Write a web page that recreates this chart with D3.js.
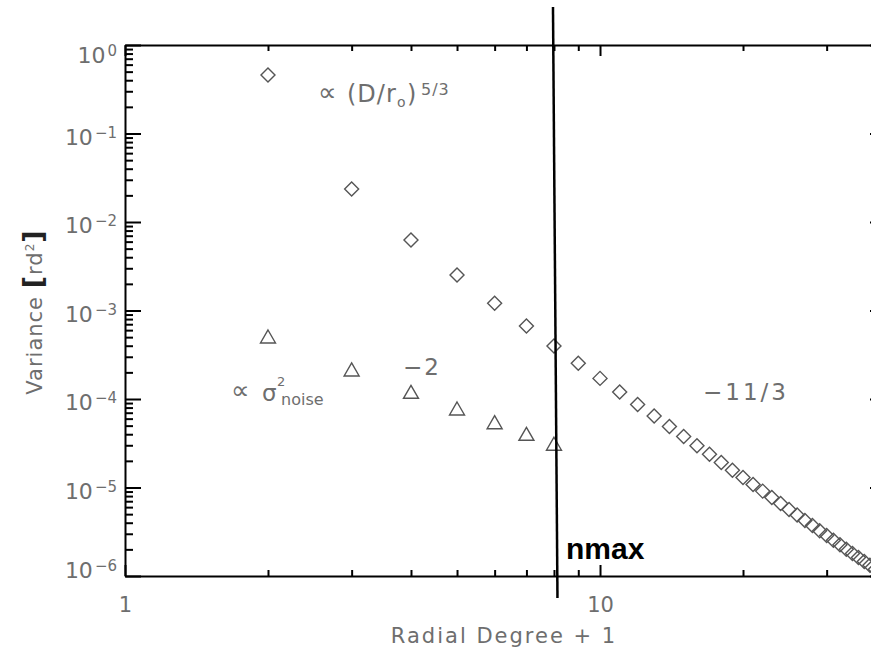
<!DOCTYPE html>
<html>
<head>
<meta charset="utf-8">
<script src="https://cdn.jsdelivr.net/npm/d3@7"></script>
<style>
  html, body { margin: 0; padding: 0; background: #fff; overflow: hidden }
  svg { display: block }
  .lbl { font-family: "DejaVu Sans", sans-serif; fill: #6e6e6e }
  .axis path, .axis line { stroke: #000; stroke-width: 2 }
</style>
</head>
<body>
<svg id="chart"></svg>
<script>
// radial degree + 1 for the turbulence (diamonds) series
const atmDegree = [2, 3, 4, 5, 6, 7, 8, 9, 10, 11, 12, 13, 14, 15, 16, 17, 18, 19, 20,
  21, 22, 23, 24, 25, 26, 27, 28, 29, 30, 31, 32, 33, 34, 35, 36, 37, 38, 39, 40]
const atmVariance = [0.458, 0.0236, 0.00626, 0.00252, 0.00121, 6.68e-4, 3.97e-4, 2.53e-4, 1.71e-4,
  1.20e-4, 8.67e-5, 6.44e-5, 4.89e-5, 3.78e-5, 2.97e-5, 2.38e-5, 1.92e-5, 1.57e-5, 1.30e-5,
  1.08e-5, 9.10e-6, 7.71e-6, 6.58e-6, 5.65e-6, 4.89e-6, 4.25e-6, 3.71e-6, 3.25e-6, 2.87e-6,
  2.54e-6, 2.26e-6, 2.01e-6, 1.80e-6, 1.62e-6, 1.46e-6, 1.32e-6, 1.19e-6, 1.08e-6, 9.8e-7]

// noise (triangles) series
const noiseDegree = [2, 3, 4, 5, 6, 7, 8]
const noiseVariance = [5.02e-4, 2.13e-4, 1.19e-4, 7.71e-5, 5.40e-5, 3.99e-5, 3.08e-5]

const nmax = 8

const xMajor = [1, 10]
const xMinor = [2, 3, 4, 5, 6, 7, 8, 9, 20, 30, 40]
const yExponents = [0, -1, -2, -3, -4, -5, -6]
const yMinorFactors = [2, 3, 4, 5, 6, 7, 8, 9]

const width = 871
const height = 648
const margin = { top: 45, right: -15, bottom: 72, left: 125 }

const svg = d3.select('#chart')
  .attr('width', width)
  .attr('height', height)

const x = d3.scaleLog()
  .domain([1, 40])
  .range([margin.left, width - margin.right])

const y = d3.scaleLog()
  .domain([1e-6, 1])
  .range([height - margin.bottom, margin.top])

const yMajor = yExponents.map(e => Math.pow(10, e))
const yMinor = []
yExponents.slice(1).forEach(e => {
  yMinorFactors.forEach(f => yMinor.push(f * Math.pow(10, e)))
})

const sup = e => String(e).replace('-', '\u2212')

// bottom axis
svg.append('g')
  .attr('class', 'axis')
  .attr('transform', `translate(0,${y.range()[0]})`)
  .call(d3.axisBottom(x).tickValues(xMajor).tickSize(-11).tickSizeOuter(0)
    .tickPadding(36).tickFormat(d3.format('d')))
  .call(g => g.selectAll('text')
    .attr('class', 'lbl').attr('dy', 0).style('font-size', '21px'))

svg.append('g')
  .attr('class', 'axis')
  .attr('transform', `translate(0,${y.range()[0]})`)
  .call(d3.axisBottom(x).tickValues(xMinor).tickSize(-6).tickFormat(''))
  .call(g => g.select('.domain').remove())

// top axis
svg.append('g')
  .attr('class', 'axis')
  .attr('transform', `translate(0,${y.range()[1]})`)
  .call(d3.axisTop(x).tickValues(xMajor).tickSize(-11).tickSizeOuter(0).tickFormat(''))

svg.append('g')
  .attr('class', 'axis')
  .attr('transform', `translate(0,${y.range()[1]})`)
  .call(d3.axisTop(x).tickValues(xMinor).tickSize(-6).tickFormat(''))
  .call(g => g.select('.domain').remove())

// left axis
const yLabelShift = { '0': 17, '-6': 1 }
svg.append('g')
  .attr('class', 'axis')
  .attr('transform', `translate(${x.range()[0]},0)`)
  .call(d3.axisLeft(y).tickValues(yMajor).tickSize(-16).tickSizeOuter(0)
    .tickPadding(8).tickFormat(''))
  .call(g => g.selectAll('text').each(function (d) {
    const e = Math.round(Math.log10(d))
    const t = d3.select(this)
      .attr('class', 'lbl')
      .attr('dy', 0)
      .attr('y', yLabelShift[e] !== undefined ? yLabelShift[e] : 10.5)
      .style('font-size', '22px')
    t.append('tspan').text('10')
    t.append('tspan')
      .attr('dx', 2)
      .attr('dy', -7)
      .style('font-size', '15px')
      .text(sup(e))
  }))

svg.append('g')
  .attr('class', 'axis')
  .attr('transform', `translate(${x.range()[0]},0)`)
  .call(d3.axisLeft(y).tickValues(yMinor).tickSize(-8).tickFormat(''))
  .call(g => g.select('.domain').remove())

// right axis (mostly outside the picture)
svg.append('g')
  .attr('class', 'axis')
  .attr('transform', `translate(${x.range()[1]},0)`)
  .call(d3.axisRight(y).tickValues(yMajor).tickSize(-16).tickSizeOuter(0).tickFormat(''))

// axis titles
svg.append('text')
  .attr('class', 'lbl')
  .attr('x', 504)
  .attr('y', 643)
  .attr('text-anchor', 'middle')
  .style('font-size', '21px')
  .style('letter-spacing', '2px')
  .text('Radial Degree + 1')

const yTitle = svg.append('text')
  .attr('class', 'lbl')
  .attr('transform', 'translate(42,312) rotate(-90)')
  .attr('text-anchor', 'middle')
  .style('font-size', '21px')
  .style('letter-spacing', '1px')
yTitle.append('tspan').text('Variance ')
yTitle.append('tspan').style('font-size', '27px').style('font-weight', 'bold').style('fill', '#222').text('[')
yTitle.append('tspan').text('rd')
yTitle.append('tspan').attr('dy', -8).style('font-size', '12px').text('2')
yTitle.append('tspan').attr('dy', 8).style('font-size', '27px').style('font-weight', 'bold').style('fill', '#222').text(']')

// symbols
const diamond = 'M0,-7L7,0L0,7L-7,0Z'
const triangle = 'M0,-7L7.5,6L-7.5,6Z'

svg.append('g')
  .selectAll('path')
  .data(atmDegree.map((d, i) => [d, atmVariance[i]]))
  .join('path')
  .attr('d', diamond)
  .attr('transform', d => `translate(${x(d[0])},${y(d[1])})`)
  .attr('fill', 'none')
  .attr('stroke', '#555')
  .attr('stroke-width', 1.4)

svg.append('g')
  .selectAll('path')
  .data(noiseDegree.map((d, i) => [d, noiseVariance[i]]))
  .join('path')
  .attr('d', triangle)
  .attr('transform', d => `translate(${x(d[0])},${y(d[1])})`)
  .attr('fill', 'none')
  .attr('stroke', '#555')
  .attr('stroke-width', 1.4)

// annotations
const ann = (px, py, size, txt, extra) => {
  const t = svg.append('text')
    .attr('class', 'lbl')
    .attr('x', px)
    .attr('y', py)
    .style('font-size', size + 'px')
    .text(txt)
  if (extra) extra(t)
  return t
}

ann(318, 101, 26, '\u221d')
ann(347, 102, 24, '(D/r', t => t.style('letter-spacing', '1px'))
ann(397, 107, 14, 'o')
ann(407, 102, 24, ')')
ann(421, 95, 16, '5/3', t => t.style('letter-spacing', '1px'))

ann(231, 399, 26, '\u221d')
ann(262, 401, 23, '\u03c3')
ann(277, 386, 13, '2')
ann(281, 405, 16, 'noise')

ann(403, 375, 23, '\u22122', t => t.style('letter-spacing', '2px'))
ann(703, 400, 23, '\u221211/3', t => t.style('letter-spacing', '3px'))

// nmax marker
svg.append('line')
  .attr('x1', x(nmax) - 1)
  .attr('x2', x(nmax) + 3.5)
  .attr('y1', 7)
  .attr('y2', 598)
  .attr('stroke', '#000')
  .attr('stroke-width', 2.5)

svg.append('text')
  .attr('x', x(nmax) + 12)
  .attr('y', 559)
  .style('font-family', '"Liberation Sans", Arial, sans-serif')
  .style('font-weight', 'bold')
  .style('font-size', '30px')
  .style('fill', '#000')
  .text('nmax')
</script>
</body>
</html>
